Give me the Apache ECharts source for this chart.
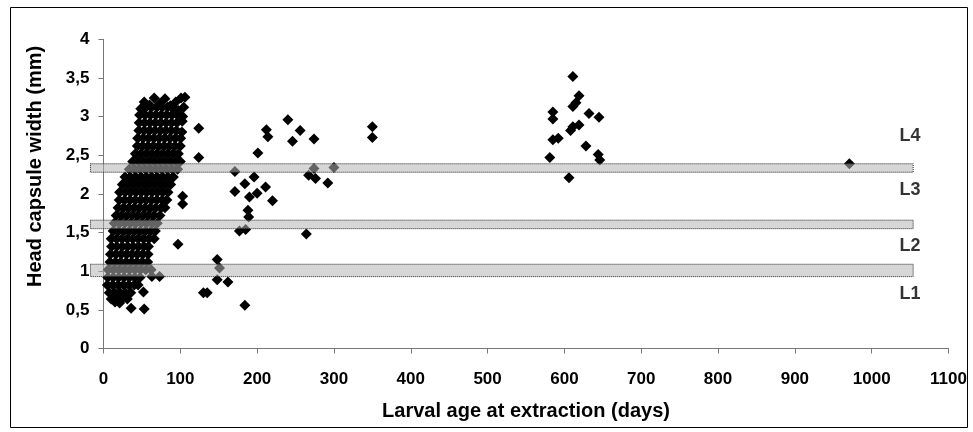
<!DOCTYPE html>
<html>
<head>
<meta charset="utf-8">
<script src="https://cdn.jsdelivr.net/npm/echarts/dist/echarts.min.js"></script>
<style>
html, body { margin: 0; padding: 0; background: #fff; }
#chart-container { width: 973px; height: 432px; }
</style>
</head>
<body>
<div id="chart-container"></div>
<script>
// [age (days), head capsule width (mm)]
var clusterPoints = [
  [53,3.19],[60,3.15],[66,3.24],[73,3.17],[80,3.23],[87,3.14],[94,3.19],[101,3.24],
  [48.5,3.10],[55.5,3.12],[62.5,3.12],[69.5,3.12],[76.5,3.12],[83.5,3.12],[90.5,3.12],[97.5,3.08],[104.5,3.12],
  [47,3.02],[54,3.02],[61,3.02],[68,3.02],[75,3.02],[82,3.02],[89,3.02],[96,3.02],[103,3.00],
  [46.5,2.92],[53.5,2.92],[60.5,2.92],[67.5,2.92],[74.5,2.92],[81.5,2.92],[88.5,2.92],[95.5,2.92],[102.5,2.94],
  [46,2.82],[53,2.82],[60,2.82],[67,2.82],[74,2.82],[81,2.82],[88,2.82],[95,2.82],[102,2.80],
  [44.5,2.72],[51.5,2.72],[58.5,2.72],[65.5,2.72],[72.5,2.72],[79.5,2.72],[86.5,2.72],[93.5,2.72],[100.5,2.72],
  [44,2.62],[51,2.62],[58,2.62],[65,2.62],[72,2.62],[79,2.62],[86,2.62],[93,2.62],[100,2.62],
  [41.5,2.52],[48.5,2.52],[55.5,2.52],[62.5,2.52],[69.5,2.52],[76.5,2.52],[83.5,2.52],[90.5,2.52],[97.5,2.52],
  [38,2.42],[45,2.42],[52,2.42],[59,2.42],[66,2.42],[73,2.42],[80,2.42],[87,2.42],[94,2.42],[100,2.42],
  [33.5,2.32],[40.5,2.32],[47.5,2.32],[54.5,2.32],[61.5,2.32],[68.5,2.32],[75.5,2.32],[82.5,2.32],[89.5,2.32],[96.5,2.32],
  [28,2.22],[35,2.22],[42,2.22],[49,2.22],[56,2.22],[63,2.22],[70,2.22],[77,2.22],[84,2.22],[91,2.22],
  [24.5,2.12],[31.5,2.12],[38.5,2.12],[45.5,2.12],[52.5,2.12],[59.5,2.12],[66.5,2.12],[73.5,2.12],[80.5,2.12],[87.5,2.12],
  [21,2.02],[28,2.02],[35,2.02],[42,2.02],[49,2.02],[56,2.02],[63,2.02],[70,2.02],[77,2.02],[84,2.02],
  [20.5,1.92],[27.5,1.92],[34.5,1.92],[41.5,1.92],[48.5,1.92],[55.5,1.92],[62.5,1.92],[69.5,1.92],[76.5,1.92],[82.5,1.92],
  [19,1.82],[26,1.82],[33,1.82],[40,1.82],[47,1.82],[54,1.82],[61,1.82],[68,1.82],[75,1.82],[80,1.82],
  [16.5,1.72],[23.5,1.72],[30.5,1.72],[37.5,1.72],[44.5,1.72],[51.5,1.72],[58.5,1.72],[65.5,1.72],[73.5,1.72],
  [14,1.62],[21,1.62],[28,1.62],[35,1.62],[42,1.62],[49,1.62],[56,1.62],[63,1.62],[70,1.62],
  [12.5,1.52],[19.5,1.52],[26.5,1.52],[33.5,1.52],[40.5,1.52],[47.5,1.52],[54.5,1.52],[61.5,1.52],[67.5,1.52],
  [10,1.42],[17,1.42],[24,1.42],[31,1.42],[38,1.42],[45,1.42],[52,1.42],[59,1.42],[66,1.42],
  [10.5,1.32],[17.5,1.32],[24.5,1.32],[31.5,1.32],[38.5,1.32],[45.5,1.32],[52.5,1.32],[58.5,1.32],
  [9,1.22],[16,1.22],[23,1.22],[30,1.22],[37,1.22],[44,1.22],[51,1.22],[58,1.22],
  [8.5,1.12],[15.5,1.12],[22.5,1.12],[29.5,1.12],[36.5,1.12],[43.5,1.12],[50.5,1.12],[57.5,1.12],
  [6,1.02],[13,1.02],[20,1.02],[27,1.02],[34,1.02],[41,1.02],[48,1.02],[55,1.02],[62,1.02],
  [5.5,0.92],[12.5,0.92],[19.5,0.92],[26.5,0.92],[33.5,0.92],[40.5,0.92],[47.5,0.92],[63,0.93],[73,0.93],
  [5,0.82],[12,0.82],[19,0.82],[26,0.82],[33,0.82],[40,0.82],[45,0.82],
  [7.5,0.72],[14.5,0.72],[21.5,0.72],[28.5,0.72],[35.5,0.72],[52,0.73],
  [10,0.64],[17,0.64],[24,0.64],[31,0.64],
  [15,0.6],[21,0.59],[36,0.52],[53,0.51]
];

var midPoints = [
  [106,3.25],[124,2.85],[124,2.47],[240,2.96],[212,2.83],[214,2.74],[256,2.82],[246,2.68],
  [274,2.71],[201,2.53],[171,2.29],[196,2.22],[267,2.24],[276,2.20],[274,2.33],[300,2.34],
  [292,2.14],[184,2.13],[171,2.03],[211,2.09],[200,2.01],[190,1.96],[220,1.91],[188,1.79],
  [189,1.70],[177,1.52],[185,1.54],[264,1.48],[97,1.35],[103,1.97],[103,1.87],[148,1.15],
  [151,1.04],[148,0.89],[162,0.86],[130,0.72],[135,0.72],[184,0.56],[350,2.87],[350,2.73]
];

var latePoints = [
  [611,3.52],[619,3.27],[611,3.13],[615,3.18],[585,3.06],[585,2.97],[632,3.04],[645,2.99],
  [611,2.87],[619,2.89],[608,2.82],[585,2.70],[592,2.72],[628,2.62],[581,2.47],[644,2.51],
  [646,2.44],[606,2.21],[971,2.39]
];

// instar boundary bands
var bandStart = -17;
var bandEnd = 1054;
var bandLow = [0.93, 1.55, 2.28];
var bandHigh = [1.09, 1.66, 2.39];

var stageNames = ['L1', 'L2', 'L3', 'L4'];
var stageLabelAge = 1050;
var stageLabelWidth = [0.71, 1.32, 2.05, 2.75];

var dom = document.getElementById('chart-container');
var myChart = echarts.init(dom, null, { renderer: 'canvas' });

var bandData = bandLow.map(function (lo, i) {
  return [bandStart, bandEnd, lo, bandHigh[i]];
});

var stageData = stageNames.map(function (n, i) {
  return { name: n, value: [stageLabelAge, stageLabelWidth[i]] };
});

function renderBand(params, api) {
  var p0 = api.coord([api.value(0), api.value(3)]);
  var p1 = api.coord([api.value(1), api.value(2)]);
  return {
    type: 'rect',
    shape: { x: p0[0], y: p0[1], width: p1[0] - p0[0], height: p1[1] - p0[1] },
    style: { fill: 'rgba(180,180,180,0.55)', stroke: '#222', lineWidth: 1, lineDash: [1, 1] }
  };
}

var fontFamily = '"Liberation Sans", Arial, sans-serif';

var option = {
  animation: false,
  textStyle: { fontFamily: fontFamily },
  graphic: [
    {
      type: 'rect',
      shape: { x: 10.5, y: 7.5, width: 957, height: 420 },
      style: { fill: null, stroke: '#000', lineWidth: 1 },
      silent: true
    }
  ],
  grid: { left: 103.5, right: 24.5, top: 39.3, bottom: 83.5 },
  xAxis: {
    type: 'value',
    min: 0,
    max: 1100,
    interval: 100,
    name: 'Larval age at extraction (days)',
    nameLocation: 'middle',
    nameGap: 53,
    nameTextStyle: { fontSize: 20, fontWeight: 'bold', color: '#000' },
    axisLine: { lineStyle: { color: '#777' } },
    axisTick: { length: 5, lineStyle: { color: '#777' } },
    axisLabel: {
      margin: 22, fontSize: 17, fontWeight: 'bold', color: '#000',
      formatter: function (v) { return String(v); }
    },
    splitLine: { show: false }
  },
  yAxis: {
    type: 'value',
    min: 0,
    max: 4,
    interval: 0.5,
    name: 'Head capsule width (mm)',
    nameLocation: 'middle',
    nameGap: 58,
    nameTextStyle: { fontSize: 20, fontWeight: 'bold', color: '#000', padding: [0, 0, 0, 55] },
    axisLine: { show: true, lineStyle: { color: '#777' } },
    axisTick: { show: true, length: 5, lineStyle: { color: '#777' } },
    axisLabel: {
      margin: 14, fontSize: 17, fontWeight: 'bold', color: '#000',
      formatter: function (v) { return String(v).replace('.', ','); }
    },
    splitLine: { show: false }
  },
  series: [
    {
      type: 'scatter',
      symbol: 'diamond',
      symbolSize: 11,
      itemStyle: { color: '#000', opacity: 1 },
      data: clusterPoints.concat(midPoints, latePoints),
      z: 2
    },
    {
      type: 'custom',
      renderItem: renderBand,
      encode: { x: [0, 1], y: [2, 3] },
      clip: false,
      silent: true,
      data: bandData,
      z: 3
    },
    {
      type: 'scatter',
      symbolSize: 0,
      silent: true,
      label: {
        show: true,
        position: 'inside',
        formatter: '{b}',
        fontSize: 18,
        fontWeight: 'bold',
        color: '#000'
      },
      data: stageData,
      z: 4
    }
  ]
};

if (option && typeof option === 'object') {
  myChart.setOption(option);
}

window.addEventListener('resize', myChart.resize);
</script>
</body>
</html>
